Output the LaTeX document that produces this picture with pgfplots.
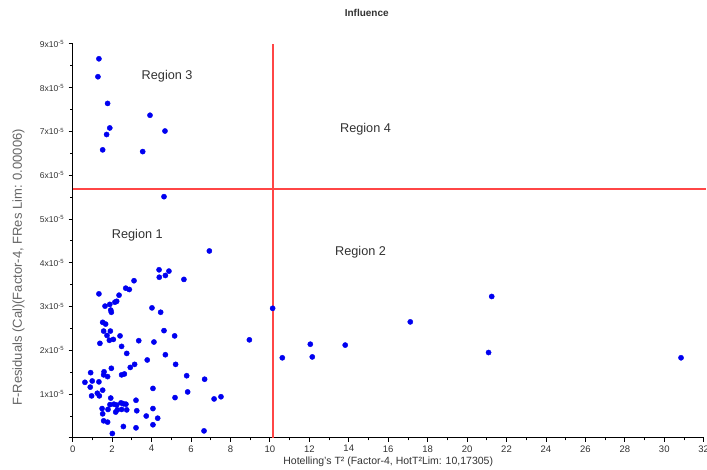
\documentclass[border=0pt]{standalone}
\usepackage{pgfplots}
\pgfplotsset{compat=1.18}
\usepackage{fontspec}
\setmainfont{Liberation Sans}
\definecolor{ptblue}{RGB}{0,0,240}
\definecolor{limred}{RGB}{255,70,70}
\definecolor{txtgray}{RGB}{50,50,50}
\begin{document}
\begin{tikzpicture}
\begin{axis}[
  at={(0pt,0pt)}, anchor=south west,
  scale only axis, width=631pt, height=394pt,
  xmin=0, xmax=32, ymin=0, ymax=9e-5,
  axis lines=left, axis line style={-, line width=1.1pt, black},
  xtick={0,2,...,32}, minor x tick num=1,
  ytick={0,1e-5,2e-5,3e-5,4e-5,5e-5,6e-5,7e-5,8e-5,9e-5},
  yticklabels={,1x10\textsuperscript{-5},2x10\textsuperscript{-5},3x10\textsuperscript{-5},4x10\textsuperscript{-5},5x10\textsuperscript{-5},6x10\textsuperscript{-5},7x10\textsuperscript{-5},8x10\textsuperscript{-5},9x10\textsuperscript{-5}},
  minor y tick num=1,
  scaled y ticks=false,
  tick align=outside, major tick length=4pt, minor tick length=2.5pt,
  tick style={black, line width=0.8pt},
  /pgf/number format/assume math mode=true,
  xticklabel style={font=\fontsize{9.5}{11}\selectfont, text=txtgray},
  yticklabel style={font=\fontsize{8.5}{10}\selectfont, text=txtgray, xshift=-1pt},
  xlabel={Hotelling's T² (Factor-4, HotT²Lim: 10,17305)},
  xlabel style={at={(axis description cs:0.5,-0.061)}, anchor=center, font=\fontsize{10.5}{12}\selectfont, text=txtgray},
  ylabel={F-Residuals (Cal)(Factor-4, FRes Lim: 0.00006)},
  ylabel style={at={(axis description cs:-0.086,0.433)}, anchor=center, rotate=0, font=\fontsize{13}{15}\selectfont, text=txtgray!75},
  title={\textbf{Influence}},
  title style={at={(axis description cs:0.466,1.063)}, anchor=center, font=\fontsize{10}{12}\selectfont, text=txtgray},
  clip=false,
]
\addplot[fill=limred, draw=none, forget plot] coordinates {(10.132,0) (10.214,0) (10.214,9e-5) (10.132,9e-5)} -- cycle;
\addplot[draw=limred, line width=1.6pt, mark=none, forget plot] coordinates {(0,5.68e-5) (32.1,5.68e-5)};
\addplot[only marks, mark=*, mark size=2.6pt, color=ptblue, mark options={fill=ptblue, draw=ptblue}] table[row sep=\\] {
x y\\
1.33 8.66e-5\\ 1.28 8.25e-5\\ 1.77 7.64e-5\\ 1.88 7.08e-5\\ 1.72 6.93e-5\\ 1.52 6.58e-5\\
3.92 7.37e-5\\ 4.68 7.01e-5\\ 3.55 6.54e-5\\ 4.63 5.51e-5\\ 6.93 4.27e-5\\
8.96 2.24e-5\\ 10.14 2.96e-5\\ 10.63 1.83e-5\\ 12.05 2.14e-5\\ 12.15 1.85e-5\\
13.82 2.12e-5\\ 17.12 2.65e-5\\ 21.25 3.23e-5\\ 21.09 1.95e-5\\ 30.85 1.83e-5\\
4.38 3.84e-5\\ 4.88 3.81e-5\\ 4.39 3.67e-5\\ 4.70 3.71e-5\\ 5.64 3.62e-5\\
3.11 3.59e-5\\ 2.69 3.42e-5\\ 2.87 3.39e-5\\ 2.35 3.26e-5\\ 1.33 3.29e-5\\
2.14 3.10e-5\\ 2.23 3.12e-5\\ 1.64 3.01e-5\\ 1.88 3.05e-5\\ 1.93 2.92e-5\\
1.96 2.87e-5\\ 4.02 2.97e-5\\ 4.46 2.87e-5\\ 1.52 2.64e-5\\ 1.67 2.60e-5\\
1.57 2.44e-5\\ 1.91 2.44e-5\\ 1.74 2.34e-5\\ 2.40 2.33e-5\\ 4.63 2.45e-5\\
5.17 2.33e-5\\ 1.38 2.16e-5\\ 1.86 2.23e-5\\ 2.06 2.25e-5\\ 2.48 2.09e-5\\
3.35 2.22e-5\\ 4.12 2.19e-5\\ 2.74 1.93e-5\\ 4.70 1.90e-5\\ 3.78 1.78e-5\\
3.14 1.68e-5\\ 2.92 1.61e-5\\ 5.22 1.68e-5\\ 0.91 1.49e-5\\ 1.59 1.51e-5\\
1.96 1.59e-5\\ 1.57 1.44e-5\\ 1.77 1.40e-5\\ 2.48 1.44e-5\\ 2.62 1.46e-5\\
5.78 1.42e-5\\ 6.69 1.34e-5\\ 0.62 1.27e-5\\ 0.99 1.30e-5\\ 1.33 1.28e-5\\
0.89 1.16e-5\\ 1.52 1.09e-5\\ 1.25 1.02e-5\\ 0.96 0.96e-5\\ 1.35 0.96e-5\\
4.07 1.13e-5\\ 5.83 1.05e-5\\ 1.93 0.91e-5\\ 1.89 0.76e-5\\ 2.09 0.77e-5\\
2.23 0.75e-5\\ 2.45 0.80e-5\\ 2.57 0.78e-5\\ 2.70 0.77e-5\\ 5.19 0.92e-5\\
7.17 0.89e-5\\ 7.52 0.94e-5\\ 1.49 0.67e-5\\ 1.79 0.65e-5\\ 2.26 0.64e-5\\
2.48 0.65e-5\\ 2.74 0.64e-5\\ 3.21 0.86e-5\\ 3.25 0.62e-5\\ 4.07 0.67e-5\\
2.18 0.59e-5\\ 1.52 0.55e-5\\ 3.73 0.50e-5\\ 4.31 0.45e-5\\ 1.57 0.39e-5\\
1.77 0.36e-5\\ 2.57 0.26e-5\\ 3.21 0.23e-5\\ 4.07 0.30e-5\\ 2.01 0.10e-5\\
6.66 0.16e-5\\
};
\node[font=\fontsize{12.7}{15}\selectfont, text=txtgray] at (axis cs:4.79,8.26e-5) {Region 3};
\node[font=\fontsize{12.7}{15}\selectfont, text=txtgray] at (axis cs:3.28,4.62e-5) {Region 1};
\node[font=\fontsize{12.7}{15}\selectfont, text=txtgray] at (axis cs:14.85,7.06e-5) {Region 4};
\node[font=\fontsize{12.7}{15}\selectfont, text=txtgray] at (axis cs:14.6,4.24e-5) {Region 2};
\end{axis}
\pgfresetboundingbox
\path[use as bounding box] (-72.7pt,-32pt) rectangle (634.3pt,437.9pt);
\end{tikzpicture}
\end{document}
